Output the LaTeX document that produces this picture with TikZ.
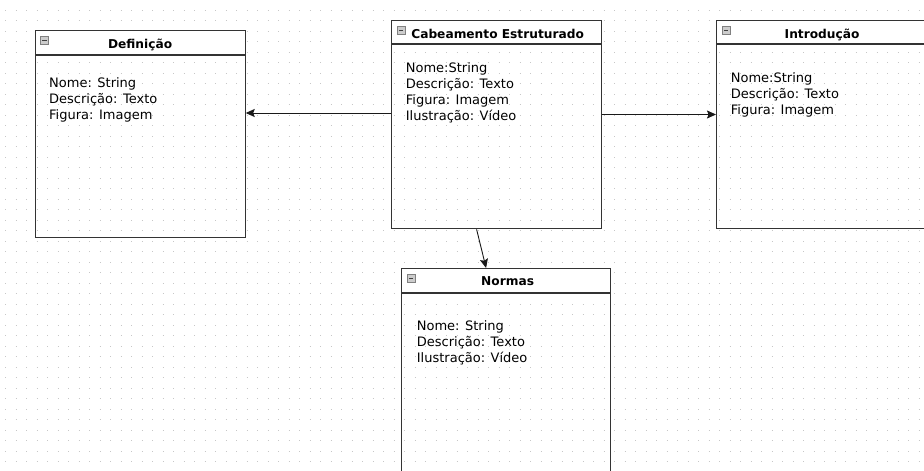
\documentclass[tikz,border=0pt]{standalone}
\usepackage{fontspec}
\setmainfont{DejaVu Sans}
\usetikzlibrary{arrows.meta}

\begin{document}
\begin{tikzpicture}[x=1pt, y=-1pt,
    griddots/.style={draw=black!22, line width=0.9pt, dash pattern=on 0.9pt off 9.6pt},
    headbox/.style={draw=black!80, line width=1.2pt, fill=white, anchor=north west,
      inner sep=0pt, minimum height=23.5pt},
    classbox/.style={draw=black!80, line width=1.2pt, anchor=north west, inner sep=0pt},
    iconbox/.style={draw=black!50, fill=black!20, line width=0.6pt, inner sep=0pt,
      minimum size=8pt,
      path picture={\draw[black!75, line width=1pt]
        ([xshift=1.8pt]path picture bounding box.west) --
        ([xshift=-1.8pt]path picture bounding box.east);}},
    title/.style={font=\fontsize{12.2}{14}\selectfont\bfseries, anchor=base, inner sep=0pt},
    attrs/.style={font=\fontsize{13}{16}\selectfont, align=left, anchor=north west, inner sep=0pt},
    link/.style={draw=black!90, line width=0.9pt, -{Stealth[length=9pt, width=8pt, inset=1.5pt]}}]
  \useasboundingbox (0,0) rectangle (924,471);
  \clip (0,0) rectangle (924,471);
  % dotted background
  \foreach \gy in {10,20.5,...,470}
    \draw[griddots] (5,\gy) -- (924,\gy);

  % Definicao
  \node[headbox, minimum width=210pt] (definicao-head) at (34.5,30) {};
  \node[classbox, minimum width=210pt, minimum height=182.5pt] (definicao) at (definicao-head.south west) {};
  \node[iconbox] (definicao-icon) at ([xshift=10pt,yshift=-10.5pt]definicao-head.north west) {};
  \node[title] (definicao-title) at ([yshift=6.2pt]definicao-head.south) {Definição};
  \node[attrs] (definicao-attrs) at ([xshift=14.5pt,yshift=-22.5pt]definicao.north west)
    {Nome: String\\Descrição: Texto\\Figura: Imagem};

  % Cabeamento Estruturado
  \node[headbox, minimum width=210pt] (cabeamento-head) at (391,19.5) {};
  \node[classbox, minimum width=210pt, minimum height=184pt] (cabeamento) at (cabeamento-head.south west) {};
  \node[iconbox] (cabeamento-icon) at ([xshift=10pt,yshift=-10.8pt]cabeamento-head.north west) {};
  \node[title] (cabeamento-title) at ([xshift=1pt,yshift=5.8pt]cabeamento-head.south) {Cabeamento Estruturado};
  \node[attrs] (cabeamento-attrs) at ([xshift=14.7pt,yshift=-18pt]cabeamento.north west)
    {Nome:String\\Descrição: Texto\\Figura: Imagem\\Ilustração: Vídeo};

  % Introducao
  \node[headbox, minimum width=215pt] (introducao-head) at (716,19.5) {};
  \node[classbox, minimum width=215pt, minimum height=184pt] (introducao) at (introducao-head.south west) {};
  \node[iconbox] (introducao-icon) at ([xshift=10pt,yshift=-10.8pt]introducao-head.north west) {};
  \node[title] (introducao-title) at ([xshift=-2pt,yshift=5.8pt]introducao-head.south) {Introdução};
  \node[attrs] (introducao-attrs) at ([xshift=14.7pt,yshift=-28pt]introducao.north west)
    {Nome:String\\Descrição: Texto\\Figura: Imagem};

  % Normas
  \node[headbox, minimum width=209pt] (normas-head) at (401,268) {};
  \node[classbox, minimum width=209pt, minimum height=220pt] (normas) at (normas-head.south west) {};
  \node[iconbox] (normas-icon) at ([xshift=10pt,yshift=-10.5pt]normas-head.north west) {};
  \node[title] (normas-title) at ([xshift=1.5pt,yshift=7.5pt]normas-head.south) {Normas};
  \node[attrs] (normas-attrs) at ([xshift=15.7pt,yshift=-27.3pt]normas.north west)
    {Nome: String\\Descrição: Texto\\Ilustração: Vídeo};

  % links
  \draw[link] (cabeamento.west |- 0,113) -- (definicao.east |- 0,113);
  \draw[link] (cabeamento.east |- 0,114.5) -- (introducao.west |- 0,114.5);
  \draw[link] ([xshift=-20pt]cabeamento.south) -- ([xshift=-20pt]normas-head.north);
\end{tikzpicture}
\end{document}
